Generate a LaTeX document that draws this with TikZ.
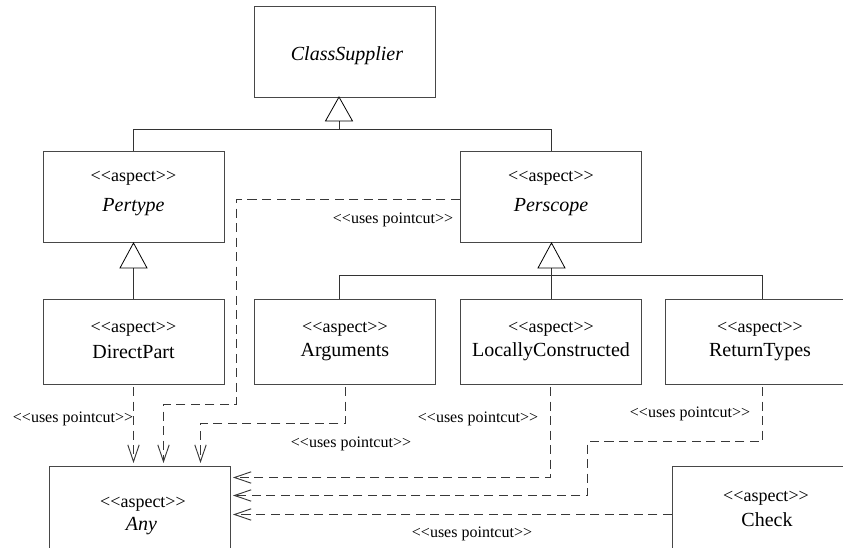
\documentclass[tikz,border=0pt]{standalone}
\usepackage{fontspec}
\setmainfont{Liberation Serif}
\usetikzlibrary{arrows.meta,calc}
\newcommand{\stereotxt}[1]{<{}<#1>{}>}
\tikzset{
  umlbox/.style={draw=black!72,line width=0.85pt,fill=white,anchor=north west,inner sep=0pt,minimum width=135.75pt,minimum height=#1},
  boxtext/.style={font=\fontsize{15}{17}\selectfont,inner sep=0pt,yshift=-0.8pt},
  stereo/.style={font=\fontsize{13.5}{15}\selectfont,inner sep=0pt,yshift=-1pt},
  uses/.style={font=\fontsize{12}{14}\selectfont,inner sep=0pt,yshift=-1pt},
  dep/.style={draw=black!78,line width=0.7pt,dash pattern=on 6.8pt off 4.1pt},
  deparrow/.style={dep,-{Straight Barb[length=12.5pt,width=8.5pt,line width=0.7pt]}},
  inherit/.style={draw=black!80,line width=0.75pt},
  tri/.style={draw=black,line width=0.6pt,fill=white}
}
\begin{document}
\begin{tikzpicture}[x=0.75pt,y=-0.75pt]
\useasboundingbox (0,0) rectangle (843,548);
\clip (0,0) rectangle (843,548);
% boxes (sizes in pt: 1px = 0.75pt)
\node[umlbox=68.25pt] (cs) at (254,6) {};
\node[umlbox=68.25pt] (pt) at (43,151) {};
\node[umlbox=68.25pt] (ps) at (460,151) {};
\node[umlbox=63.75pt] (dp) at (43,299) {};
\node[umlbox=63.75pt] (ar) at (254,299) {};
\node[umlbox=63.75pt] (lc) at (460,299) {};
\node[umlbox=63.75pt] (rt) at (665,299) {};
\node[umlbox=75pt] (an) at (49,466) {};
\node[umlbox=75pt] (ck) at (672,466) {};
% texts
\node[boxtext] (t1) at (347,55) {\textit{ClassSupplier}};
\node[stereo] (s2) at (133.5,177) {\stereotxt{aspect}};
\node[boxtext] (t2) at (133.5,206.5) {\textit{Pertype}};
\node[stereo] (s3) at (551,177) {\stereotxt{aspect}};
\node[boxtext] (t3) at (551,206.5) {\textit{Perscope}};
\node[stereo] (s4) at (133.5,328) {\stereotxt{aspect}};
\node[boxtext] (t4) at (133.5,351) {DirectPart};
\node[stereo] (s5) at (345,328) {\stereotxt{aspect}};
\node[boxtext] (t5) at (345,351) {Arguments};
\node[stereo] (s6) at (551,328) {\stereotxt{aspect}};
\node[boxtext] (t6) at (551,351) {LocallyConstructed};
\node[stereo] (s7) at (760,328) {\stereotxt{aspect}};
\node[boxtext] (t7) at (760,351) {ReturnTypes};
\node[stereo] (s8) at (143,503) {\stereotxt{aspect}};
\node[boxtext] (t8) at (141.5,525) {\textit{Any}};
\node[stereo] (s9) at (766,497) {\stereotxt{aspect}};
\node[boxtext] (t9) at (767,519) {Check};
% generalisation
\coordinate (j1) at (339,129);
\draw[inherit] (133.5,151) |- (551.5,129.5) -- (551.5,151);
\draw[inherit] (j1) -- (339,121);
\draw[tri] (339,97) -- (352.5,121) -- (325.5,121) -- cycle;
\draw[inherit] (133.5,299) -- (133.5,268);
\draw[tri] (133.5,243) -- (147,268) -- (120,268) -- cycle;
\draw[inherit] (339.5,299) |- (762.5,275.5) -- (762.5,299);
\draw[inherit] (551.5,299) -- (551.5,268);
\draw[tri] (551.5,243) -- (565,268) -- (538,268) -- cycle;
% dependencies
\draw[deparrow] (133.5,387) -- (133.5,463);
\draw[deparrow] (ps.west |- 0,199.5) -| (236.5,404.5) -| (163.5,463);
\draw[deparrow] (345.5,387) |- (200.5,423.5) -- (200.5,463);
\draw[deparrow] (550.5,387) |- (233,477.5);
\draw[deparrow] (762.5,387) |- (587.5,441.5) |- (233,495.5);
\draw[deparrow] (ck.west |- 0,514.5) -- (233,514.5);
% labels
\node[uses] (u1) at (73,418) {\stereotxt{uses pointcut}};
\node[uses] (u2) at (393,219) {\stereotxt{uses pointcut}};
\node[uses] (u3) at (351,443) {\stereotxt{uses pointcut}};
\node[uses] (u4) at (478,418) {\stereotxt{uses pointcut}};
\node[uses] (u5) at (690,413) {\stereotxt{uses pointcut}};
\node[uses] (u6) at (472,533) {\stereotxt{uses pointcut}};
\end{tikzpicture}
\end{document}
